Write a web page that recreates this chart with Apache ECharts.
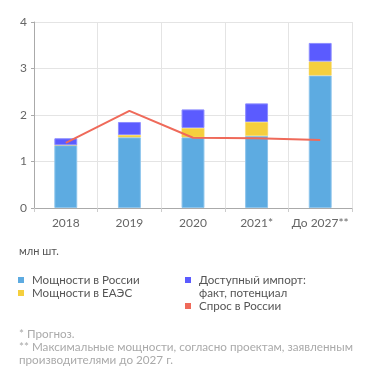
<!DOCTYPE html>
<html><head><meta charset="utf-8">
<script src="https://cdn.jsdelivr.net/npm/echarts@6/dist/echarts.min.js"></script>
<style>html,body{margin:0;padding:0;background:#fff}#c{width:371px;height:384px}</style>
</head><body><div id="c"></div>
<script>
var categories = ['2018', '2019', '2020', '2021*', 'До 2027**'];
var russiaCapacity = [1.35, 1.52, 1.52, 1.55, 2.85];
var eaeuCapacity = [0, 0.05, 0.2, 0.3, 0.3];
var importAvail = [0.15, 0.28, 0.4, 0.4, 0.4];
var demandRussia = [1.40, 2.09, 1.51, 1.50, 1.46];
var yTicks = [0, 1, 2, 3, 4];

var C_RU = '#5dabe1', C_EA = '#f5cf3d', C_IM = '#5b5bff', C_DM = '#ef6a5a';
var FONT = 'Lato';
var chart = echarts.init(document.getElementById('c'), null, {renderer: 'canvas'});
var barW = '36%';
function legendItem(x, y, color, lines) {
  return [
    {type: 'rect', left: x, top: y - 3, shape: {width: 6, height: 6}, style: {fill: color}},
    {type: 'text', left: x + 14, top: y - 7, style: {text: lines, fontFamily: FONT, fontSize: 11.6, fill: '#555', lineHeight: 13.5}}
  ];
}
var graphics = [].concat(
  [{type: 'text', left: 19, top: 246, style: {text: 'млн шт.', fontFamily: FONT, fontSize: 11, fill: '#555'}}],
  legendItem(18, 280, C_RU, 'Мощности в России'),
  legendItem(18, 293, C_EA, 'Мощности в ЕАЭС'),
  legendItem(185, 280, C_IM, 'Доступный импорт:\nфакт, потенциал'),
  legendItem(185, 306, C_DM, 'Спрос в России'),
  [{type: 'text', left: 19, top: 328, style: {text: '* Прогноз.\n** Максимальные мощности, согласно проектам, заявленным\nпроизводителями до 2027 г.', fontFamily: FONT, fontSize: 11.7, fill: '#aaa', lineHeight: 13}}]
);
chart.setOption({
  animation: false,
  textStyle: {fontFamily: FONT},
  grid: {left: 34, right: 19, top: 22, bottom: 176, containLabel: false},
  xAxis: {
    type: 'category', data: categories,
    axisLine: {lineStyle: {color: '#aaa', width: 1}},
    axisTick: {show: true, length: 4, interval: 0, lineStyle: {color: '#ccc'}},
    splitLine: {show: true, interval: 0, lineStyle: {color: '#e4e4e4'}},
    axisLabel: {color: '#666', fontSize: 12, margin: 9, interval: 0, fontFamily: FONT}
  },
  yAxis: {
    type: 'value', min: yTicks[0], max: yTicks[yTicks.length - 1], interval: 1,
    axisLine: {show: true, lineStyle: {color: '#aaa'}},
    axisTick: {show: true, length: 3, lineStyle: {color: '#aaa'}},
    splitLine: {show: true, lineStyle: {color: '#e4e4e4'}},
    axisLabel: {color: '#666', fontSize: 12, margin: 7, fontFamily: FONT}
  },
  series: [
    {name: 'Мощности в России', type: 'bar', stack: 's', data: russiaCapacity, barWidth: barW,
      itemStyle: {color: C_RU, borderColor: '#8cc4ec', borderWidth: 1}},
    {name: 'Мощности в ЕАЭС', type: 'bar', stack: 's', data: eaeuCapacity, barWidth: barW,
      itemStyle: {color: C_EA, borderColor: '#f7db70', borderWidth: 0.5}},
    {name: 'Доступный импорт: факт, потенциал', type: 'bar', stack: 's', data: importAvail, barWidth: barW,
      itemStyle: {color: C_IM, borderColor: '#8d8dff', borderWidth: 1}},
    {name: 'Спрос в России', type: 'line', data: demandRussia, symbol: 'none',
      lineStyle: {color: C_DM, width: 2}, itemStyle: {color: C_DM}, z: 5}
  ],
  graphic: graphics
});
</script></body></html>
